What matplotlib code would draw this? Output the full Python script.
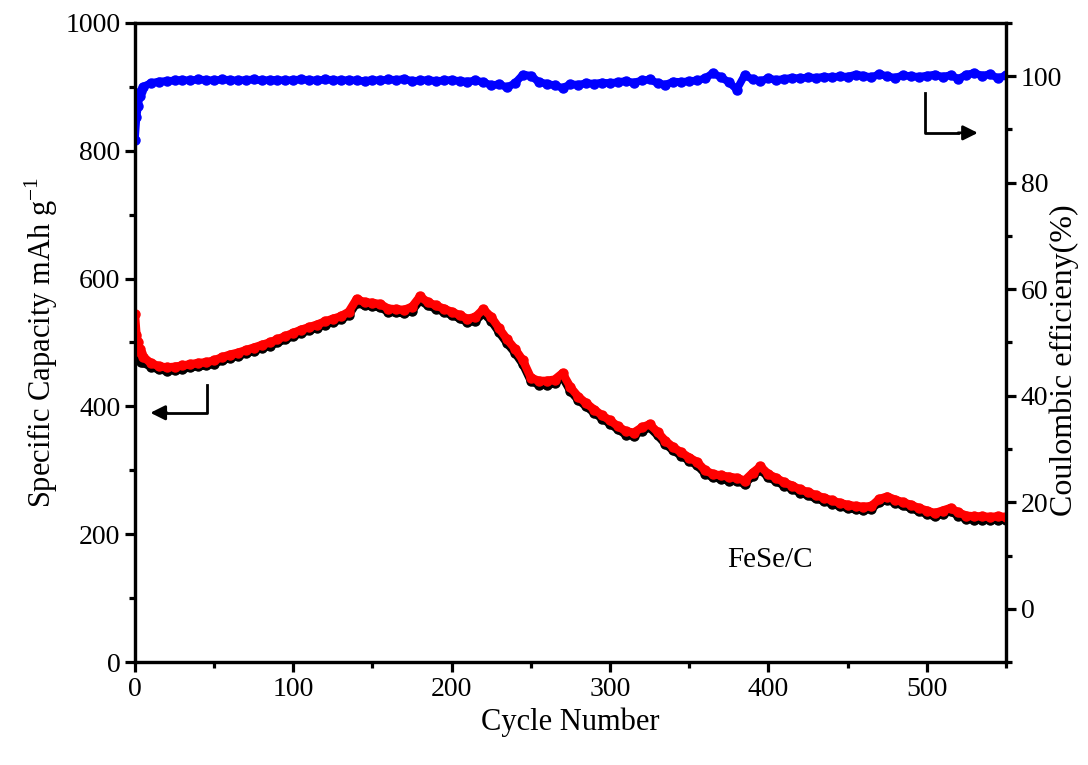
import numpy as np
from matplotlib import pyplot as plt
from matplotlib.ticker import MultipleLocator

plt.rcParams['font.family'] = ['Liberation Serif', 'DejaVu Serif']
plt.rcParams['mathtext.fontset'] = 'custom'
plt.rcParams['mathtext.rm'] = 'Liberation Serif'

# cycle numbers (first few cycles, then every 5th)
cycles = np.array([0, 1, 2, 3, 4] + list(range(5, 551, 5)))

discharge = [545, 512, 500, 490, 483,
             478, 468, 463, 461, 462, 464, 466, 468, 469, 472,
             477, 481, 484, 488, 492, 496, 500, 505, 510, 515,
             520, 524, 528, 533, 537, 541, 548, 568, 563, 562,
             560, 553, 552, 551, 556, 572, 563, 558, 553, 548,
             543, 537, 540, 552, 540, 522, 505, 490, 472, 445,
             440, 440, 442, 452, 430, 415, 405, 395, 386, 378,
             369, 361, 359, 367, 372, 360, 346, 336, 328, 320,
             313, 300, 294, 292, 290, 288, 284, 296, 306, 294,
             288, 281, 276, 270, 266, 261, 257, 253, 249, 246,
             244, 243, 244, 255, 259, 254, 250, 246, 241, 237,
             233, 237, 241, 234, 229, 228, 228, 227, 228, 227]

charge = [482, 478, 474, 472, 470,
          469, 462, 458, 456, 457, 459, 461, 463, 464, 467,
          472, 476, 479, 483, 487, 491, 495, 500, 505, 510,
          515, 519, 523, 528, 532, 536, 543, 562, 558, 557,
          555, 548, 547, 546, 550, 566, 558, 553, 548, 543,
          538, 532, 534, 546, 534, 516, 499, 484, 466, 440,
          434, 434, 436, 446, 424, 410, 400, 390, 381, 373,
          364, 356, 354, 362, 367, 355, 341, 331, 323, 315,
          308, 295, 289, 287, 284, 283, 279, 291, 301, 289,
          283, 276, 271, 265, 261, 256, 252, 248, 244, 241,
          239, 238, 240, 250, 254, 249, 245, 241, 236, 232,
          228, 232, 236, 229, 224, 223, 223, 222, 223, 222]

efficiency = [88.0, 92.3, 94.4, 96.2, 97.3,
              98.0, 98.7, 99.0, 99.1, 99.2, 99.3, 99.2, 99.4, 99.3, 99.2,
              99.4, 99.3, 99.2, 99.3, 99.4, 99.2, 99.3, 99.3, 99.2, 99.3,
              99.4, 99.3, 99.2, 99.4, 99.3, 99.2, 99.3, 99.2, 99.1, 99.3,
              99.2, 99.4, 99.3, 99.5, 99.1, 99.2, 99.3, 99.1, 99.2, 99.3,
              99.1, 99.0, 99.2, 98.9, 98.3, 98.5, 97.9, 98.7, 100.3, 100.1,
              98.9, 98.6, 98.3, 97.8, 98.5, 98.4, 98.7, 98.6, 98.8, 98.7,
              98.9, 99.1, 98.8, 99.2, 99.4, 98.7, 98.4, 99.0, 98.9, 99.1,
              99.2, 99.6, 100.6, 99.8, 98.9, 97.5, 100.2, 99.4, 99.1, 99.6,
              99.3, 99.5, 99.7, 99.6, 99.8, 99.7, 99.9, 99.8, 100.0, 99.9,
              100.3, 100.1, 99.8, 100.4, 100.0, 99.7, 100.2, 100.0, 99.9, 100.1,
              100.3, 99.9, 100.2, 99.5, 100.3, 100.6, 100.1, 100.4, 99.6, 100.2]

fig = plt.figure(figsize=(10.88, 7.65), dpi=100)
ax = fig.add_axes([0.124, 0.1346, 0.8006, 0.8354])
ax2 = ax.twinx()

ax.plot(cycles, charge, color='black', lw=6, marker='o', ms=6.5,
        solid_capstyle='round', solid_joinstyle='round', zorder=2)
ax.plot(cycles, discharge, color='red', lw=6, marker='o', ms=6.5,
        solid_capstyle='round', solid_joinstyle='round', zorder=3)
ax2.plot(cycles, efficiency, color='blue', lw=5.5, marker='o', ms=6.5,
         solid_capstyle='round', solid_joinstyle='round')

ax.set_xlim(0, 550)
ax.set_ylim(0, 1000)
ax2.set_ylim(-10, 110)

ax.xaxis.set_major_locator(MultipleLocator(100))
ax.xaxis.set_minor_locator(MultipleLocator(50))
ax.yaxis.set_major_locator(MultipleLocator(200))
ax.yaxis.set_minor_locator(MultipleLocator(100))
ax2.yaxis.set_minor_locator(MultipleLocator(10))
ax2.set_yticks([0, 20, 40, 60, 80, 100])

for a in (ax, ax2):
    for sp in a.spines.values():
        sp.set_linewidth(2.3)
    a.tick_params(which='major', direction='out', length=7, width=2.3,
                  labelsize=20)
    a.tick_params(which='minor', direction='out', length=4, width=2.3)
ax.tick_params(which='both', top=False, right=False)
ax2.tick_params(which='both', left=False)

ax.set_xlabel('Cycle Number', fontsize=22)
ax.set_ylabel('Specific Capacity mAh g$^{\\mathregular{-1}}$', fontsize=22)
ax2.set_ylabel('Coulombic efficieny(%)', fontsize=23)
ax2.yaxis.set_label_coords(1.05, 0.473)

# arrows pointing to the axes
ax.plot([45.5, 45.5, 20], [433, 390, 390], color='black', lw=2)
ax.annotate('', xy=(8, 390), xytext=(22, 390),
            arrowprops=dict(arrowstyle='-|>', color='black', lw=2,
                            mutation_scale=22))
ax.plot([499, 499, 520], [890, 828, 828], color='black', lw=2)
ax.annotate('', xy=(534, 828), xytext=(518, 828),
            arrowprops=dict(arrowstyle='-|>', color='black', lw=2,
                            mutation_scale=22))

ax.text(401, 160, 'FeSe/C', fontsize=21, ha='center', va='center')

fig.savefig('out.png', dpi=100)
